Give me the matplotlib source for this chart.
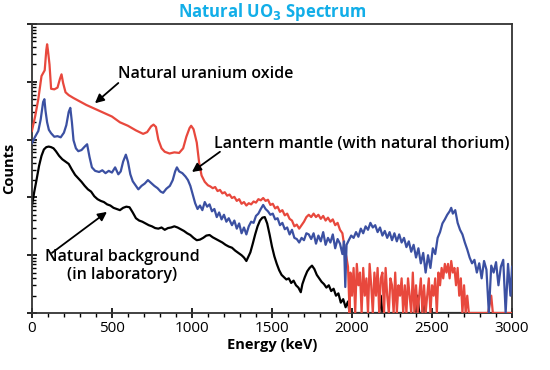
import numpy as np
import matplotlib.pyplot as plt
from matplotlib.ticker import MultipleLocator, LogLocator, NullFormatter

plt.rcParams['font.family'] = ['Open Sans', 'DejaVu Sans']

# --- natural uranium oxide (log10 counts) ---
uo2_kev = [0, 20, 40, 60, 70, 80, 90, 95, 100, 110, 120, 140, 160, 175, 185, 195, 210, 230,
           260, 300, 340, 380, 420, 460, 500, 550, 600, 650, 695, 720, 745, 760, 775, 790,
           810, 830, 860, 890, 920, 945, 965, 985, 995, 1010, 1030, 1045, 1060, 1080, 1100,
           1115, 1130, 1145, 1160, 1175, 1190, 1205, 1220, 1235, 1250, 1265, 1280, 1295,
           1310, 1325, 1340, 1355, 1370, 1385, 1400, 1415, 1430, 1445, 1460, 1475, 1490,
           1505, 1520, 1535, 1550, 1565, 1580, 1595, 1610, 1625, 1640, 1655, 1670, 1685,
           1700, 1715, 1730, 1745, 1760, 1775, 1790, 1805, 1820, 1835, 1850, 1865, 1880,
           1895, 1910, 1925, 1940, 1955, 1965, 1975,
           1985, 1990, 2000, 2010, 2020, 2030, 2040, 2050, 2060, 2070, 2080, 2090, 2100,
           2110, 2120, 2130, 2140, 2150, 2160, 2170, 2180, 2190, 2200, 2210, 2220, 2230,
           2240, 2250, 2260, 2270, 2280, 2290, 2300, 2310, 2320, 2330, 2340, 2350, 2360,
           2370, 2380, 2390, 2400, 2410, 2420, 2430, 2440, 2450, 2460, 2470, 2480, 2490,
           2500, 2510, 2520, 2530, 2540, 2550, 2560, 2570, 2580, 2590, 2600, 2610, 2620,
           2630, 2640, 2650, 2660, 2670, 2680, 2690, 2700, 2710, 2720, 2730, 2740, 2760,
           2850, 2870, 2880, 3000]
uo2_log = [3.15, 3.40, 3.70, 4.10, 4.15, 4.20, 4.55, 4.65, 4.55, 4.30, 3.88, 3.87, 3.90, 4.05,
           4.13, 3.98, 3.82, 3.77, 3.72, 3.66, 3.60, 3.55, 3.50, 3.45, 3.40, 3.30, 3.24, 3.16,
           3.10, 3.13, 3.23, 3.26, 3.22, 3.00, 2.85, 2.79, 2.76, 2.78, 2.77, 2.85, 3.05, 3.20,
           3.24, 3.18, 2.95, 2.60, 2.38, 2.27, 2.21, 2.19, 2.16, 2.18, 2.11, 2.13, 2.07, 2.09,
           2.03, 2.05, 1.99, 2.01, 1.94, 1.97, 1.89, 1.92, 1.86, 1.90, 1.88, 1.93, 1.91, 1.97,
           1.95, 1.99, 1.94, 1.96, 1.87, 1.89, 1.81, 1.84, 1.75, 1.78, 1.69, 1.72, 1.63, 1.60,
           1.50, 1.53, 1.46, 1.52, 1.58, 1.66, 1.70, 1.66, 1.72, 1.66, 1.70, 1.63, 1.68, 1.60,
           1.65, 1.58, 1.62, 1.52, 1.56, 1.44, 1.38, 1.10, 0.97, 0.80,
           0.00, 0.70, 0.30, 0.78, 0.00, 0.85, 0.48, 0.70, 0.00, 0.78, 0.30, 0.60, 0.00,
           0.85, 0.48, 0.00, 0.70, 0.30, 0.78, 0.00, 0.60, 0.70, 0.00, 0.78, 0.30, 0.00,
           0.60, 0.48, 0.00, 0.70, 0.00, 0.48, 0.30, 0.60, 0.00, 0.48, 0.00, 0.60, 0.30,
           0.00, 0.70, 0.00, 0.48, 0.00, 0.30, 0.60, 0.00, 0.48, 0.00, 0.30, 0.60, 0.00,
           0.48, 0.30, 0.60, 0.00, 0.70, 0.48, 0.78, 0.60, 0.85, 0.70, 0.85, 0.60, 0.90,
           0.70, 0.78, 0.48, 0.78, 0.30, 0.60, 0.00, 0.48, 0.00, 0.30, 0.00, 0.00, 0.00,
           0.00, 0.30, 0.00, 0.00]

# --- lantern mantle (natural thorium) ---
mantle_kev = [0, 20, 40, 55, 70, 78, 85, 95, 106, 120, 140, 160, 180, 200, 215, 230, 240, 250,
              260, 275, 290, 310, 330, 345, 360, 375, 395, 420, 440, 460, 480, 500, 520, 540,
              555, 570, 587, 600, 615, 630, 650, 665, 685, 705, 725, 745, 765, 785, 805, 820,
              840, 862, 880, 895, 906, 920, 940, 960, 975, 990, 1005, 1020, 1035, 1050, 1065,
              1080, 1095, 1110, 1125, 1140, 1155, 1170, 1185, 1200, 1215, 1230, 1250, 1265,
              1280, 1295, 1310, 1325, 1340, 1355, 1370, 1385, 1400, 1415, 1430, 1445, 1460,
              1475, 1490, 1505, 1520, 1535, 1550, 1565, 1580, 1595, 1610, 1625, 1640, 1655,
              1670, 1685, 1700, 1715, 1730, 1745, 1760, 1775, 1790, 1805, 1820, 1835, 1850,
              1865, 1880, 1895, 1910, 1925, 1940, 1950, 1958, 1966, 1980, 1995, 2010, 2025,
              2040, 2055, 2070, 2085, 2100, 2115, 2130, 2145, 2160, 2175, 2190, 2205, 2220,
              2235, 2250, 2265, 2280, 2295, 2310, 2325, 2340, 2355, 2370, 2385, 2400, 2415,
              2430, 2445, 2460, 2475, 2490, 2505, 2520, 2535, 2550, 2565, 2580, 2595, 2610,
              2620, 2630, 2645, 2660, 2675, 2690, 2705, 2720, 2735, 2750, 2765, 2780, 2795,
              2810, 2825, 2840, 2855, 2870, 2885, 2900, 2915, 2930, 2945, 2960, 2975, 2990,
              3000]
mantle_log = [2.94, 3.05, 3.15, 3.35, 3.65, 3.70, 3.50, 3.30, 3.17, 3.11, 3.05, 3.06, 3.04, 3.12,
              3.25, 3.48, 3.55, 3.30, 2.99, 2.85, 2.80, 2.82, 2.88, 2.92, 2.70, 2.52, 2.46, 2.44,
              2.47, 2.42, 2.46, 2.43, 2.52, 2.40, 2.45, 2.62, 2.74, 2.62, 2.40, 2.28, 2.20, 2.14,
              2.20, 2.24, 2.30, 2.25, 2.20, 2.16, 2.10, 2.08, 2.15, 2.20, 2.30, 2.45, 2.52, 2.45,
              2.42, 2.36, 2.30, 2.20, 2.05, 1.90, 1.80, 1.86, 1.78, 1.92, 1.84, 1.88, 1.76, 1.80,
              1.66, 1.74, 1.62, 1.70, 1.58, 1.64, 1.52, 1.60, 1.46, 1.55, 1.38, 1.48, 1.36, 1.50,
              1.58, 1.56, 1.68, 1.72, 1.80, 1.87, 1.80, 1.76, 1.70, 1.72, 1.62, 1.64, 1.52, 1.56,
              1.45, 1.48, 1.36, 1.44, 1.30, 1.28, 1.22, 1.30, 1.26, 1.38, 1.36, 1.28, 1.38, 1.20,
              1.34, 1.24, 1.40, 1.18, 1.30, 1.22, 1.36, 1.12, 1.28, 1.20, 1.02, 1.24, 0.45, 1.18,
              1.26, 1.34, 1.30, 1.40, 1.32, 1.46, 1.38, 1.50, 1.44, 1.56, 1.48, 1.52, 1.40, 1.48,
              1.34, 1.42, 1.30, 1.40, 1.26, 1.38, 1.24, 1.36, 1.22, 1.30, 1.14, 1.24, 1.06, 1.18,
              0.96, 1.12, 0.86, 1.04, 0.70, 1.00, 0.78, 1.12, 1.02, 1.30, 1.40, 1.55, 1.62, 1.70,
              1.76, 1.82, 1.72, 1.78, 1.56, 1.44, 1.36, 1.22, 1.10, 0.96, 0.86, 0.92, 0.70, 0.86,
              0.60, 0.90, 0.75, 0.00, 0.82, 0.70, 0.88, 0.48, 0.80, 0.92, 0.00, 0.85, 0.30, 0.80]

# --- natural background (laboratory) ---
bkg_kev = [0, 15, 30, 45, 60, 75, 90, 105, 120, 135, 150, 170, 190, 210, 230, 250, 270, 290,
           310, 330, 350, 370, 390, 410, 430, 450, 470, 490, 510, 530, 550, 570, 590, 610,
           630, 650, 670, 690, 710, 730, 750, 770, 790, 810, 830, 850, 870, 890, 910, 930,
           950, 970, 990, 1010, 1030, 1050, 1070, 1090, 1110, 1130, 1150, 1170, 1190, 1210,
           1230, 1250, 1270, 1290, 1310, 1325, 1340, 1350, 1365, 1380, 1395, 1410, 1425,
           1440, 1455, 1470, 1485, 1500, 1515, 1530, 1545, 1560, 1575, 1590, 1605, 1620,
           1635, 1650, 1665, 1680, 1690, 1705, 1720, 1735, 1750, 1765, 1780, 1795, 1810,
           1825, 1840, 1855, 1870, 1885, 1900, 1915, 1930, 1945, 1960, 1975, 1985,
           2170, 2180, 2190, 2400, 2410, 2420, 2440, 2450, 2460, 3000]
bkg_log = [1.85, 2.10, 2.32, 2.55, 2.72, 2.83, 2.87, 2.88, 2.87, 2.85, 2.80, 2.72, 2.66, 2.62,
           2.58, 2.48, 2.39, 2.33, 2.27, 2.20, 2.14, 2.10, 2.02, 1.97, 1.94, 1.92, 1.88, 1.86,
           1.82, 1.80, 1.78, 1.82, 1.84, 1.83, 1.74, 1.64, 1.60, 1.58, 1.55, 1.52, 1.50, 1.47,
           1.46, 1.48, 1.44, 1.47, 1.48, 1.50, 1.48, 1.45, 1.42, 1.38, 1.35, 1.30, 1.26, 1.27,
           1.30, 1.34, 1.35, 1.31, 1.28, 1.25, 1.22, 1.18, 1.15, 1.13, 1.08, 1.04, 1.00, 0.96,
           0.90, 0.96, 1.05, 1.20, 1.36, 1.50, 1.60, 1.65, 1.66, 1.55, 1.36, 1.15, 0.98, 0.85,
           0.74, 0.66, 0.62, 0.58, 0.60, 0.52, 0.56, 0.48, 0.44, 0.36, 0.50, 0.62, 0.72, 0.78,
           0.82, 0.76, 0.66, 0.60, 0.54, 0.50, 0.44, 0.48, 0.38, 0.42, 0.30, 0.34, 0.18, 0.24,
           0.10, 0.20, 0.00,
           0.00, 0.30, 0.00, 0.00, 0.30, 0.00, 0.00, 0.30, 0.00, 0.00]

red = '#e8483d'
blue = '#3b50a2'

fig = plt.figure(figsize=(5.5, 3.7), dpi=100)
ax = fig.add_axes([0.058, 0.154, 0.873, 0.781])

ax.plot(bkg_kev, 10 ** np.array(bkg_log), color='black', lw=1.6, zorder=2)
ax.plot(uo2_kev, 10 ** np.array(uo2_log), color=red, lw=1.6, zorder=3)
ax.plot(mantle_kev, 10 ** np.array(mantle_log), color=blue, lw=1.6, zorder=4)

ax.set_yscale('log')
ax.set_ylim(1, 1e5)
ax.set_xlim(0, 3000)
ax.xaxis.set_major_locator(MultipleLocator(500))
ax.xaxis.set_minor_locator(MultipleLocator(100))
ax.yaxis.set_major_locator(LogLocator(base=10, numticks=10))
ax.yaxis.set_minor_locator(LogLocator(base=10, subs=np.arange(2, 10), numticks=10))
ax.yaxis.set_major_formatter(NullFormatter())
ax.yaxis.set_minor_formatter(NullFormatter())
ax.tick_params(axis='x', which='major', direction='inout', length=7, width=1.2, labelsize=11, pad=2)
ax.tick_params(axis='x', which='minor', direction='out', length=3, width=1)
ax.tick_params(axis='y', which='major', direction='inout', length=7, width=1.2)
ax.tick_params(axis='y', which='minor', direction='in', length=3, width=1)
for s in ax.spines.values():
    s.set_linewidth(1.3)
    s.set_color('#333333')

ax.set_xlabel('Energy (keV)', fontsize=10.5, fontweight='bold', labelpad=2)
ax.set_ylabel('Counts', fontsize=10.5, fontweight='bold', labelpad=4)
ax.set_title('Natural UO$_\\mathbf{3}$ Spectrum', fontsize=12, fontweight='bold',
             color='#12aee8', pad=5)

arrow = dict(arrowstyle='-|>', color='black', lw=1.3, mutation_scale=13, shrinkA=0, shrinkB=0)
ax.annotate('', xy=(394, 10 ** 3.63), xytext=(540, 10 ** 3.98), arrowprops=arrow)
ax.text(540, 10 ** 4.14, 'Natural uranium oxide', fontsize=11.5, fontweight='semibold',
        va='center', ha='left')
ax.annotate('', xy=(1000, 10 ** 2.44), xytext=(1175, 10 ** 2.79), arrowprops=arrow)
ax.text(1140, 10 ** 2.93, 'Lantern mantle (with natural thorium)', fontsize=11.5,
        fontweight='semibold', va='center', ha='left')
ax.annotate('', xy=(469, 10 ** 1.75), xytext=(125, 10 ** 1.04), arrowprops=arrow)
ax.text(565, 10 ** 0.81, 'Natural background\n(in laboratory)', fontsize=11.5,
        fontweight='semibold', va='center', ha='center', linespacing=1.15)

fig.savefig('out.png', dpi=100)
